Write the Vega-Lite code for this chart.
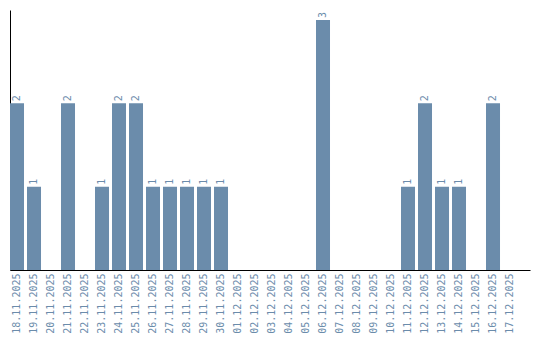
{
  "$schema": "https://vega.github.io/schema/vega-lite/v6.json",
  "width": 520,
  "height": 260,
  "autosize": "none",
  "padding": {"left": 10, "top": 10, "right": 10, "bottom": 70},
  "config": {"view": {"stroke": null}, "font": "DejaVu Sans Mono"},
  "data": {"values": [
    {"date": "18.11.2025", "count": 2},
    {"date": "19.11.2025", "count": 1},
    {"date": "20.11.2025", "count": 0},
    {"date": "21.11.2025", "count": 2},
    {"date": "22.11.2025", "count": 0},
    {"date": "23.11.2025", "count": 1},
    {"date": "24.11.2025", "count": 2},
    {"date": "25.11.2025", "count": 2},
    {"date": "26.11.2025", "count": 1},
    {"date": "27.11.2025", "count": 1},
    {"date": "28.11.2025", "count": 1},
    {"date": "29.11.2025", "count": 1},
    {"date": "30.11.2025", "count": 1},
    {"date": "01.12.2025", "count": 0},
    {"date": "02.12.2025", "count": 0},
    {"date": "03.12.2025", "count": 0},
    {"date": "04.12.2025", "count": 0},
    {"date": "05.12.2025", "count": 0},
    {"date": "06.12.2025", "count": 3},
    {"date": "07.12.2025", "count": 0},
    {"date": "08.12.2025", "count": 0},
    {"date": "09.12.2025", "count": 0},
    {"date": "10.12.2025", "count": 0},
    {"date": "11.12.2025", "count": 1},
    {"date": "12.12.2025", "count": 2},
    {"date": "13.12.2025", "count": 1},
    {"date": "14.12.2025", "count": 1},
    {"date": "15.12.2025", "count": 0},
    {"date": "16.12.2025", "count": 2},
    {"date": "17.12.2025", "count": 0}
  ]},
  "encoding": {
    "x": {
      "field": "date", "type": "ordinal", "sort": null,
      "scale": {"paddingInner": 0.176, "paddingOuter": 0.382, "align": 0},
      "axis": {
        "title": null, "labelAngle": 270, "labelAlign": "right", "labelBaseline": "middle",
        "labelColor": "#6b8cab", "labelFontSize": 10, "labelFont": "DejaVu Sans Mono",
        "ticks": false, "labelPadding": 3, "domainColor": "#000000", "domainWidth": 1
      }
    },
    "y": {
      "field": "count", "type": "quantitative",
      "scale": {"domain": [0, 3.12], "nice": false},
      "axis": {"title": null, "labels": false, "ticks": false, "grid": false, "domainColor": "#000000", "domainWidth": 1}
    }
  },
  "layer": [
    {"mark": {"type": "bar", "color": "#6b8cab"}},
    {
      "transform": [{"filter": "datum.count > 0"}],
      "mark": {"type": "text", "angle": 270, "align": "left", "baseline": "middle", "dx": 2, "color": "#6b8cab", "fontSize": 10, "font": "DejaVu Sans Mono"},
      "encoding": {"text": {"field": "count", "type": "quantitative"}}
    }
  ]
}
